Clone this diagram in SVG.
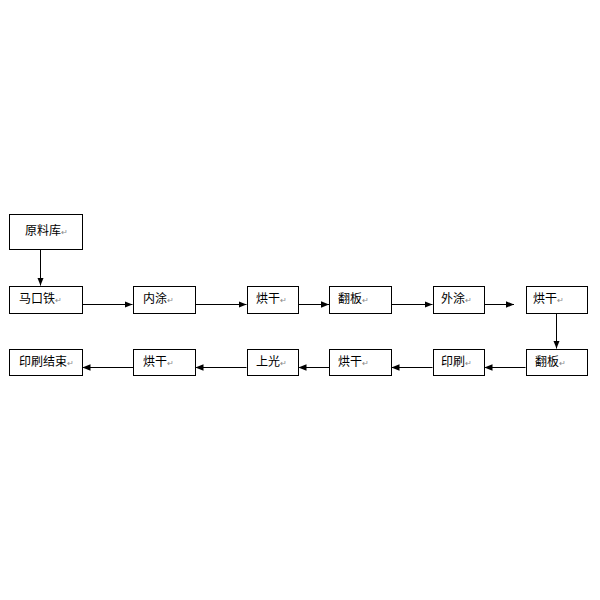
<svg xmlns="http://www.w3.org/2000/svg" width="600" height="600" viewBox="0 0 600 600">
<style>
.box{fill:#fff;stroke:#000;stroke-width:1}
.t{font-family:"Noto Sans CJK SC","Liberation Sans",sans-serif;font-size:12px;fill:#000}
.r{font-size:8px;fill:#888}
.c{stroke:#000;stroke-width:1;fill:none;marker-end:url(#ah)}
</style>
<defs>
<marker id="ah" viewBox="0 0 10 10" refX="10" refY="5" markerWidth="8" markerHeight="8" markerUnits="userSpaceOnUse" orient="auto">
<path d="M0,1 L10,5 L0,9 Z" fill="#000"/>
</marker>
</defs>
<rect width="600" height="600" fill="#fff"/>
<g id="connectors">
<line class="c" x1="40.5" y1="249.5" x2="40.5" y2="285.5"/>
<line class="c" x1="82.5" y1="304.5" x2="132.5" y2="304.5"/>
<line class="c" x1="195.5" y1="304.5" x2="246.5" y2="304.5"/>
<line class="c" x1="298.5" y1="304.5" x2="329" y2="304.5"/>
<line class="c" x1="391.5" y1="304.5" x2="432.5" y2="304.5"/>
<line class="c" x1="484.5" y1="304.5" x2="514" y2="304.5"/>
<line class="c" x1="556.5" y1="313.5" x2="556.5" y2="348.5"/>
<line class="c" x1="525.5" y1="367.5" x2="484.5" y2="367.5"/>
<line class="c" x1="432.5" y1="367.5" x2="391.5" y2="367.5"/>
<line class="c" x1="329.5" y1="367.5" x2="298.5" y2="367.5"/>
<line class="c" x1="246.5" y1="367.5" x2="195.5" y2="367.5"/>
<line class="c" x1="133.5" y1="367.5" x2="82.5" y2="367.5"/>
</g>
<g id="n1"><rect class="box" x="9.5" y="214.5" width="73" height="35"/><text class="t" x="25" y="235">原料库<tspan class="r">↵</tspan></text></g>
<g id="n2"><rect class="box" x="9.5" y="286.5" width="73" height="27"/><text class="t" x="19" y="303">马口铁<tspan class="r">↵</tspan></text></g>
<g id="n3"><rect class="box" x="133.5" y="286.5" width="62" height="27"/><text class="t" x="143" y="303">内涂<tspan class="r">↵</tspan></text></g>
<g id="n4"><rect class="box" x="247.5" y="286.5" width="51" height="27"/><text class="t" x="256" y="303">烘干<tspan class="r">↵</tspan></text></g>
<g id="n5"><rect class="box" x="329.5" y="286.5" width="62" height="27"/><text class="t" x="338" y="303">翻板<tspan class="r">↵</tspan></text></g>
<g id="n6"><rect class="box" x="433.5" y="286.5" width="51" height="27"/><text class="t" x="441" y="303">外涂<tspan class="r">↵</tspan></text></g>
<g id="n7"><rect class="box" x="526.5" y="286.5" width="61" height="27"/><text class="t" x="533" y="303">烘干<tspan class="r">↵</tspan></text></g>
<g id="n8"><rect class="box" x="526.5" y="349.5" width="61" height="26"/><text class="t" x="535" y="366">翻板<tspan class="r">↵</tspan></text></g>
<g id="n9"><rect class="box" x="433.5" y="349.5" width="51" height="26"/><text class="t" x="441" y="366">印刷<tspan class="r">↵</tspan></text></g>
<g id="n10"><rect class="box" x="329.5" y="349.5" width="62" height="26"/><text class="t" x="338" y="366">烘干<tspan class="r">↵</tspan></text></g>
<g id="n11"><rect class="box" x="247.5" y="349.5" width="51" height="26"/><text class="t" x="256" y="366">上光<tspan class="r">↵</tspan></text></g>
<g id="n12"><rect class="box" x="133.5" y="349.5" width="62" height="26"/><text class="t" x="143" y="366">烘干<tspan class="r">↵</tspan></text></g>
<g id="n13"><rect class="box" x="9.5" y="349.5" width="73" height="26"/><text class="t" x="19" y="366">印刷结束<tspan class="r">↵</tspan></text></g>
</svg>
